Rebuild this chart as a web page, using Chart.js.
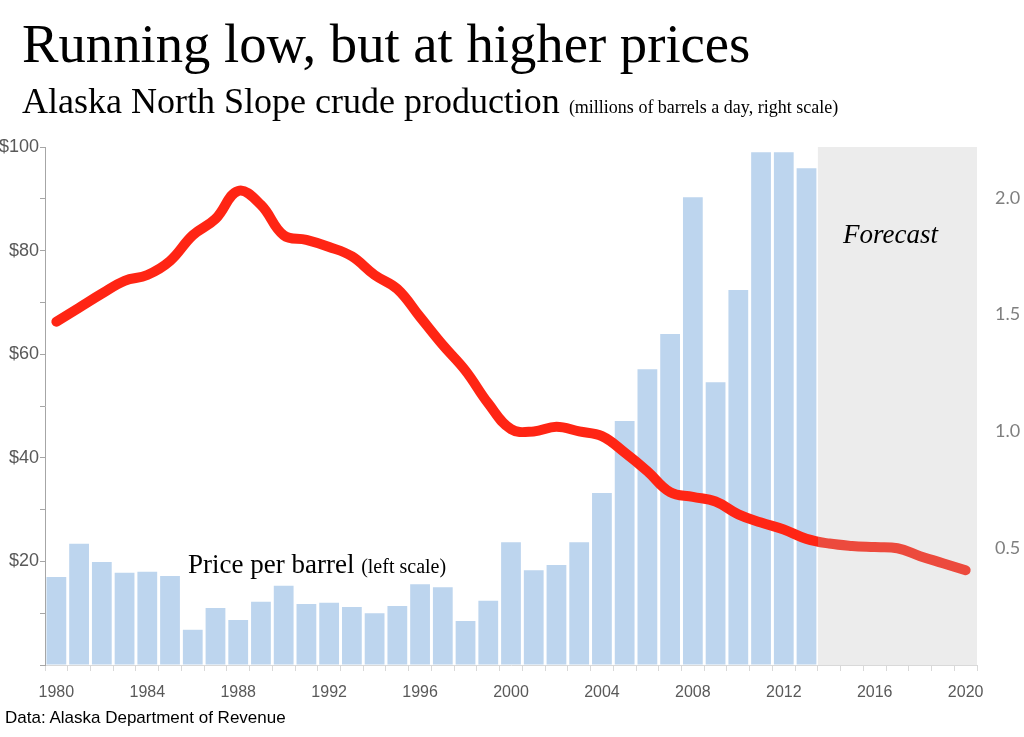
<!DOCTYPE html>
<html lang="en">
<head>
<meta charset="UTF-8">
<title>Running low, but at higher prices</title>
<script src="https://cdn.jsdelivr.net/npm/chart.js@4.4.0/dist/chart.umd.min.js"></script>
<style>
    html, body { margin: 0; padding: 0; background: #fff; }
    #wrap { position: relative; width: 1024px; height: 737px; overflow: hidden; }
    #wrap canvas { position: absolute; left: 0; top: 0; }
    .txt { position: absolute; white-space: nowrap; color: #000; transform-origin: 0 0; }
    .serif { font-family: "Liberation Serif", "Times New Roman", serif; }
    #title { left: 22px; top: 17px; font-size: 54px; line-height: 1; }
    #subtitle { left: 22px; top: 83px; font-size: 36px; line-height: 1; }
    #subtitle small { font-size: 18px; }
    #pricelabel { left: 188px; top: 551px; font-size: 27px; line-height: 1; }
    #pricelabel small { font-size: 20px; }
    #forecast { left: 843px; top: 221px; font-size: 27px; font-style: italic; line-height: 1; }
    #source { left: 5px; top: 709px; font-family: "Liberation Sans", Arial, sans-serif; font-size: 17px; line-height: 1; }
</style>
</head>
<body>
<div id="wrap">
    <canvas id="chart" width="1024" height="737"></canvas>
    <div id="title" class="txt serif">Running low, but at higher prices</div>
    <div id="subtitle" class="txt serif">Alaska North Slope crude production <small>(millions of barrels a day, right scale)</small></div>
    <div id="pricelabel" class="txt serif">Price per barrel <small>(left scale)</small></div>
    <div id="forecast" class="txt serif">Forecast</div>
    <div id="source" class="txt">Data: Alaska Department of Revenue</div>
</div>

<script>
    // years 1980 - 2020
    const years = [];
    for (let y = 1980; y <= 2020; y++) years.push(String(y));

    // ANS price per barrel, $ (left scale), 1980-2013
    const price = [17.0, 23.4, 19.9, 17.8, 18.0, 17.2, 6.8, 11.0, 8.7, 12.2,
                   15.3, 11.8, 12.0, 11.2, 10.0, 11.4, 15.6, 15.0, 8.5, 12.4,
                   23.7, 18.3, 19.3, 23.7, 33.2, 47.1, 57.1, 63.9, 90.3, 54.6,
                   72.4, 99.0, 99.0, 95.9,
                   null, null, null, null, null, null, null];

    // ANS production, million barrels a day (right scale), 1980-2020
    const production = [1.47, 1.53, 1.59, 1.645, 1.67, 1.73, 1.84, 1.91, 2.03, 1.97,
                        1.84, 1.82, 1.79, 1.75, 1.67, 1.61, 1.49, 1.37, 1.26, 1.12,
                        1.01, 1.00, 1.02, 1.00, 0.98, 0.91, 0.83, 0.74, 0.72, 0.70,
                        0.645, 0.61, 0.58, 0.54, 0.52, 0.51, 0.505, 0.50, 0.466, 0.436,
                        0.406];

    const lastActual = 33; // index of 2013, forecast starts after it

    const priceTicks = [20, 40, 60, 80, 100];
    const prodTicks = [0.5, 1.0, 1.5, 2.0];

    // stretch a text block to the width it has in the original
    function fitWidth(id, w) {
        const el = document.getElementById(id);
        el.style.transform = 'scaleX(' + (w / el.offsetWidth) + ')';
    }
    fitWidth('title', 728);

    function forecastStart(chart) {
        const x = chart.scales.x;
        return (x.getPixelForValue(lastActual) + x.getPixelForValue(lastActual + 1)) / 2;
    }

    const forecastBox = {
        id: 'forecastBox',
        beforeDatasetsDraw(chart) {
            const area = chart.chartArea;
            const x0 = forecastStart(chart);
            const ctx = chart.ctx;
            ctx.save();
            ctx.fillStyle = '#ececec';
            ctx.fillRect(x0, area.top, area.right - x0, area.bottom - area.top);
            ctx.restore();
        }
    };

    function lineColor(c) {
        const chart = c.chart;
        if (!chart.chartArea || !chart.scales.x) return '#ff2514';
        const area = chart.chartArea;
        const f = (forecastStart(chart) - area.left) / (area.right - area.left);
        const g = chart.ctx.createLinearGradient(area.left, 0, area.right, 0);
        g.addColorStop(0, '#ff2514');
        g.addColorStop(f, '#ff2514');
        g.addColorStop(f, '#ec4a3d');
        g.addColorStop(1, '#ec4a3d');
        return g;
    }

    new Chart(document.getElementById('chart'), {
        data: {
            labels: years,
            datasets: [{
                type: 'line',
                data: production,
                yAxisID: 'y2',
                borderColor: lineColor,
                borderWidth: 10,
                borderCapStyle: 'round',
                borderJoinStyle: 'round',
                pointRadius: 0,
                tension: 0.4,
                order: 0
            }, {
                type: 'bar',
                data: price,
                yAxisID: 'y',
                backgroundColor: '#bdd5ee',
                barPercentage: 0.87,
                categoryPercentage: 1.0,
                order: 1
            }]
        },
        options: {
            responsive: false,
            animation: false,
            layout: { padding: { top: 147, left: 0, right: 0, bottom: 0 } },
            plugins: {
                legend: { display: false },
                tooltip: { enabled: false },
                title: { display: false }
            },
            scales: {
                x: {
                    grid: { offset: true, drawOnChartArea: false, tickLength: 6, color: '#d9d9d9' },
                    border: { display: true, color: '#d9d9d9' },
                    ticks: {
                        autoSkip: false,
                        maxRotation: 0,
                        padding: 12,
                        color: '#595959',
                        font: { family: 'Liberation Sans, Arial, sans-serif', size: 16 },
                        callback: function (v, i) {
                            return Number(years[i]) % 4 === 0 ? years[i] : '';
                        }
                    },
                    afterFit: s => { s.height = 72; }
                },
                y: {
                    position: 'left',
                    min: 0,
                    max: 100,
                    grid: { drawOnChartArea: false, tickLength: 5, color: '#a6a6a6' },
                    border: { display: true, color: '#a6a6a6' },
                    ticks: {
                        stepSize: 10,
                        padding: 1,
                        color: '#595959',
                        font: { family: 'Liberation Sans, Arial, sans-serif', size: 18 },
                        callback: v => priceTicks.includes(v) ? '$' + v : ''
                    },
                    afterFit: s => { s.width = 45; }
                },
                y2: {
                    position: 'right',
                    min: 0,
                    max: 2.218,
                    grid: { display: false, drawTicks: false },
                    border: { display: false },
                    afterBuildTicks: s => { s.ticks = prodTicks.map(v => ({ value: v })); },
                    ticks: {
                        padding: 18,
                        color: '#7f7f7f',
                        font: { family: 'Lato, sans-serif', size: 18 },
                        callback: v => v.toFixed(1)
                    },
                    afterFit: s => { s.width = 47; }
                }
            }
        },
        plugins: [forecastBox]
    });
</script>
</body>
</html>
